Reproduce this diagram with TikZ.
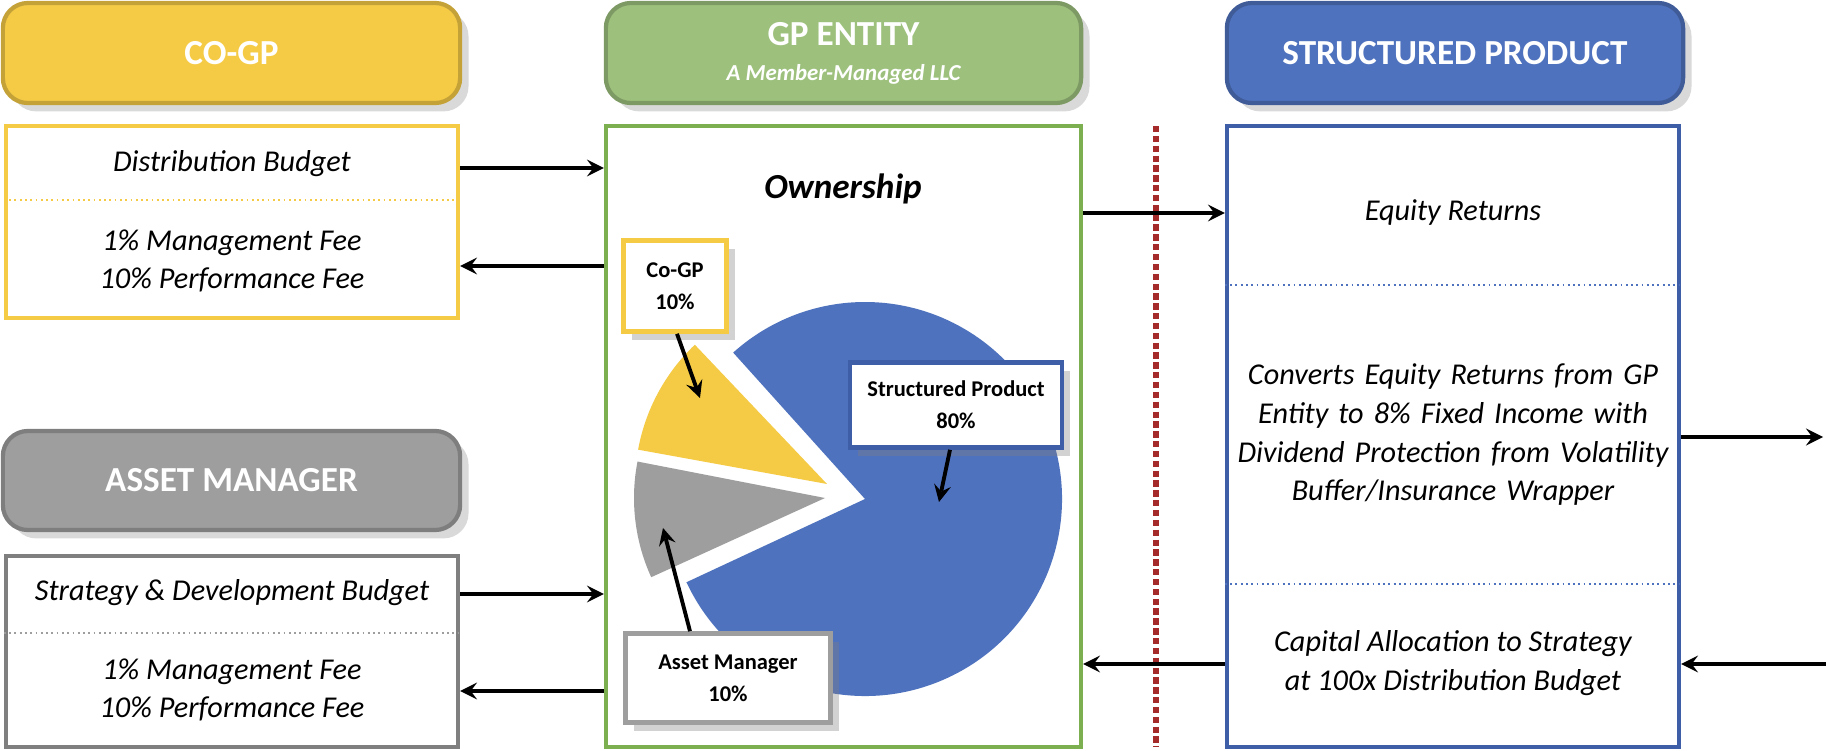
\documentclass[tikz,border=0pt]{standalone}
\usepackage{fontspec}
\setmainfont{Carlito}
\usetikzlibrary{calc,shadows}
\definecolor{cgY}{HTML}{F5CB46}
\definecolor{gpG}{HTML}{9DC17D}
\definecolor{gpGd}{HTML}{7CAF4F}
\definecolor{spB}{HTML}{4F72BE}
\definecolor{spBd}{HTML}{3E5EA8}
\definecolor{amG}{HTML}{9E9E9E}
\definecolor{amGd}{HTML}{7F7F7F}
\definecolor{sepR}{HTML}{A52A2A}
\tikzset{
  head/.style={draw=#1!80!black, fill=#1, line width=1.2pt, rounded corners=2.5mm,
    drop shadow={opacity=0.3}, text=white, font=\bfseries\fontsize{10}{12}\selectfont},
  body/.style={draw=#1, line width=1.1pt, fill=white},
  txt/.style={font=\itshape\fontsize{8.6}{11}\selectfont, align=center},
  call/.style={draw=#1, line width=1.3pt, fill=white, drop shadow={opacity=0.35},
    font=\bfseries\fontsize{6.4}{9}\selectfont, align=center},
  arr/.style={->, >=stealth, line width=1.1pt},
  dv/.style={#1, densely dotted, line width=0.5pt}
}
\begin{document}
\begin{tikzpicture}[x=0.01cm,y=0.01cm]
\useasboundingbox (0,0) rectangle (1826,751);
% headers
\node[head=cgY, minimum width=45.7mm, minimum height=10mm] (cgH) at (231.5,698) {CO-GP};
\node[head=gpG, minimum width=47.5mm, minimum height=10mm, align=center] (gpH) at (843.5,698)
  {GP ENTITY\\[-2pt]{\fontsize{6.5}{8}\selectfont\itshape A Member-Managed LLC}};
\node[head=spB, minimum width=45.6mm, minimum height=10mm] (spH) at (1455,698) {STRUCTURED PRODUCT};
\node[head=amG, minimum width=45.7mm, minimum height=9.9mm] (amH) at (231.5,270.5) {ASSET MANAGER};
% bodies
\node[body=cgY, minimum width=45.2mm, minimum height=19.2mm] (cgB) at (232,529) {};
\node[body=amGd, minimum width=45.2mm, minimum height=19.1mm] (amB) at (232,99.5) {};
\node[body=gpGd, minimum width=47.5mm, minimum height=62.1mm] (gpB) at (843.5,314.5) {};
\node[body=spBd, minimum width=45.2mm, minimum height=62.1mm] (spB) at (1453,314.5) {};
\draw[dv=cgY] (cgB.west |- 0,551) -- (cgB.east |- 0,551);
\draw[dv=amG] (amB.west |- 0,118) -- (amB.east |- 0,118);
\draw[dv=spB] (spB.west |- 0,466) -- (spB.east |- 0,466);
\draw[dv=spB] (spB.west |- 0,167) -- (spB.east |- 0,167);
\draw[sepR, densely dotted, line width=1.8pt] (1156,625) -- (1156,4);
% texts
\node[txt] (cgT1) at (232,587) {Distribution Budget};
\node[txt] (cgT2) at (232,490) {1\% Management Fee\\10\% Performance Fee};
\node[txt] (amT1) at (232,158) {Strategy \& Development Budget};
\node[txt] (amT2) at (232,61) {1\% Management Fee\\10\% Performance Fee};
\node[font=\bfseries\itshape\fontsize{10}{12}\selectfont] (own) at (843,562) {Ownership};
\node[txt] (spT1) at (1453,538) {Equity Returns};
\node[txt, text width=44mm] (spT2) at (1453,316) {Converts Equity Returns from GP Entity to 8\% Fixed Income with Dividend Protection from Volatility Buffer/Insurance Wrapper};
\node[txt] (spT3) at (1453,88) {Capital Allocation to Strategy\\at 100x Distribution Budget};
% pie
\fill[spB] (865,252) -- ++(205:197) arc (205:492:197) -- cycle;
\fill[cgY] (827,267) -- ++(133.5:192) arc (133.5:169.7:192) -- cycle;
\fill[amG] (825,253) -- ++(169:191) arc (169:204.5:191) -- cycle;
% callouts
\node[call=cgY, minimum width=10.3mm, minimum height=9.1mm] (cgC) at (675,465) {Co-GP\\10\%};
\node[call=spBd, minimum width=21.2mm, minimum height=8.5mm] (spC) at (956,346) {Structured Product\\80\%};
\node[call=amG, minimum width=20.5mm, minimum height=8.9mm] (amC) at (728,73) {Asset Manager\\10\%};
\coordinate (cgP) at (700,353);
\coordinate (spP) at (939,249);
\coordinate (amP) at (663,223);
\draw[arr] (cgC.south) ++(2,0) -- (cgP);
\draw[arr] (spC.south) ++(-6,0) -- (spP);
\draw[arr] (amC.north) ++(-38,0) -- (amP);
% flows
\draw[arr] (cgB.east |- 0,583) -- (gpB.west |- 0,583);
\draw[arr] (gpB.west |- 0,485) -- (cgB.east |- 0,485);
\draw[arr] (amB.east |- 0,157) -- (gpB.west |- 0,157);
\draw[arr] (gpB.west |- 0,60) -- (amB.east |- 0,60);
\draw[arr] (gpB.east |- 0,538) -- (spB.west |- 0,538);
\draw[arr] (spB.west |- 0,87) -- (gpB.east |- 0,87);
\coordinate (outR) at (1823,314);
\coordinate (inR) at (1826,87);
\draw[arr] (spB.east |- outR) -- (outR);
\draw[arr] (inR) -- (spB.east |- inR);
\end{tikzpicture}
\end{document}
